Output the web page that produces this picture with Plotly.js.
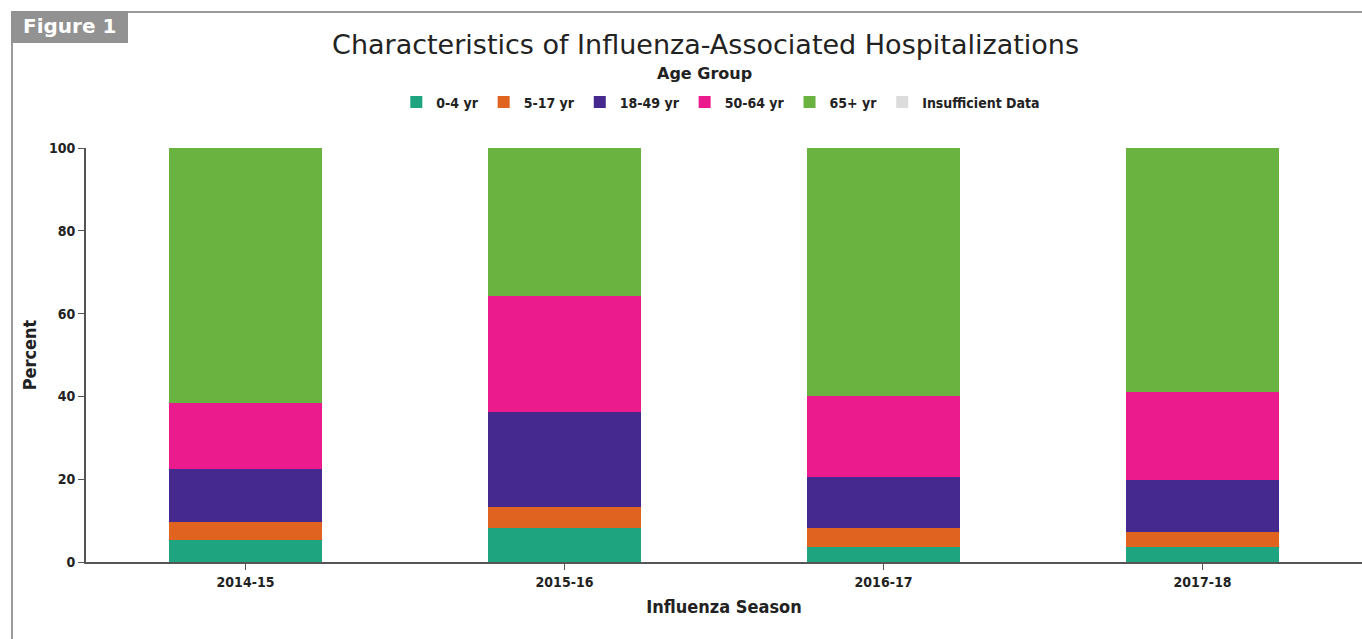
<!DOCTYPE html>
<html>
<head>
<meta charset="utf-8">
<script src="https://cdn.plot.ly/plotly-3.0.1.min.js"></script>
<style>
  html, body { margin: 0; padding: 0; background: #fff; }
  #wrap { position: relative; width: 1362px; height: 639px; overflow: hidden; }
  #chart { position: absolute; left: 0; top: 0; width: 1362px; height: 639px; }
  #frameTop { position: absolute; left: 11px; top: 11px; width: 1351px; height: 2px; background: #9a9a9a; }
  #frameLeft { position: absolute; left: 11px; top: 11px; width: 2px; height: 628px; background: #9a9a9a; }
  #figLabel { position: absolute; left: 11px; top: 11px; width: 117px; height: 32px; background: #929292;
              color: #fff; font-family: "DejaVu Sans", sans-serif; font-weight: bold; font-size: 20px;
              line-height: 30px; padding-left: 12px; box-sizing: border-box; }
</style>
</head>
<body>
<div id="wrap">
  <div id="chart"></div>
  <div id="frameTop"></div>
  <div id="frameLeft"></div>
  <div id="figLabel">Figure 1</div>
</div>
<script>
const seasons = ["2014-15", "2015-16", "2016-17", "2017-18"];
const age0to4   = [5.4, 8.1, 3.6, 3.6];
const age5to17  = [4.3, 5.2, 4.5, 3.7];
const age18to49 = [12.7, 23.0, 12.5, 12.5];
const age50to64 = [16.1, 28.0, 19.5, 21.3];
const age65plus = [61.5, 35.7, 59.9, 58.9];
const insufficient = [0, 0, 0, 0];
const seriesNames = ["0-4 yr", "5-17 yr", "18-49 yr", "50-64 yr", "65+ yr", "Insufficient Data"];
const seriesColors = ["#1ea47e", "#e0641f", "#45298f", "#ec1b8d", "#6bb341", "#dcdcdc"];
const yTicks = [0, 20, 40, 60, 80, 100];

const seriesValues = [age0to4, age5to17, age18to49, age50to64, age65plus, insufficient];
const traces = seriesValues.map((vals, i) => ({
  type: "bar",
  x: seasons,
  y: vals,
  name: seriesNames[i],
  marker: { color: seriesColors[i], line: { width: 0 } },
  hoverinfo: "x+y+name"
}));

const fontFam = '"DejaVu Sans Condensed", "DejaVu Sans", sans-serif';

const layout = {
  width: 1362,
  height: 639,
  margin: { l: 86, r: 0, t: 148, b: 77 },
  paper_bgcolor: "rgba(0,0,0,0)",
  plot_bgcolor: "rgba(0,0,0,0)",
  barmode: "stack",
  bargap: 0.52,
  showlegend: true,
  title: {
    text: "Characteristics of Influenza-Associated Hospitalizations",
    font: { family: '"DejaVu Sans", sans-serif', size: 27, color: "#222" },
    x: 0.518, xanchor: "center",
    y: 0.93, yanchor: "middle", yref: "container"
  },
  legend: {
    orientation: "h",
    x: 0.4975, xanchor: "center",
    y: 1.11, yanchor: "middle",
    font: { family: fontFam, size: 14, color: "#222", weight: "bold" },
    itemwidth: 30,
    traceorder: "normal",
    bgcolor: "rgba(0,0,0,0)"
  },
  annotations: [{
    text: "<b>Age Group</b>",
    xref: "paper", yref: "paper",
    x: 0.485, y: 1.18, xanchor: "center", yanchor: "middle",
    showarrow: false,
    font: { family: '"DejaVu Sans", sans-serif', size: 16, color: "#222" }
  }],
  xaxis: {
    type: "category",
    range: [-0.5, 3.5],
    showline: true, linecolor: "#555", linewidth: 2,
    ticks: "outside", ticklen: 6, tickcolor: "#555", tickwidth: 1,
    showgrid: false, zeroline: false,
    tickfont: { family: fontFam, size: 14, color: "#222", weight: "bold" },
    title: { text: "Influenza Season", font: { family: fontFam, size: 18, color: "#222", weight: "bold" }, standoff: 12 }
  },
  yaxis: {
    range: [0, 100],
    tickvals: yTicks,
    ticktext: yTicks.map(String),
    showline: true, linecolor: "#555", linewidth: 2,
    ticks: "outside", ticklen: 6, tickcolor: "#555", tickwidth: 1,
    showgrid: false, zeroline: false,
    tickfont: { family: fontFam, size: 14, color: "#222", weight: "bold" },
    title: { text: "Percent", font: { family: fontFam, size: 18, color: "#222", weight: "bold" }, standoff: 8 }
  }
};

Plotly.newPlot("chart", traces, layout, { displayModeBar: false, staticPlot: true });
</script>
</body>
</html>
